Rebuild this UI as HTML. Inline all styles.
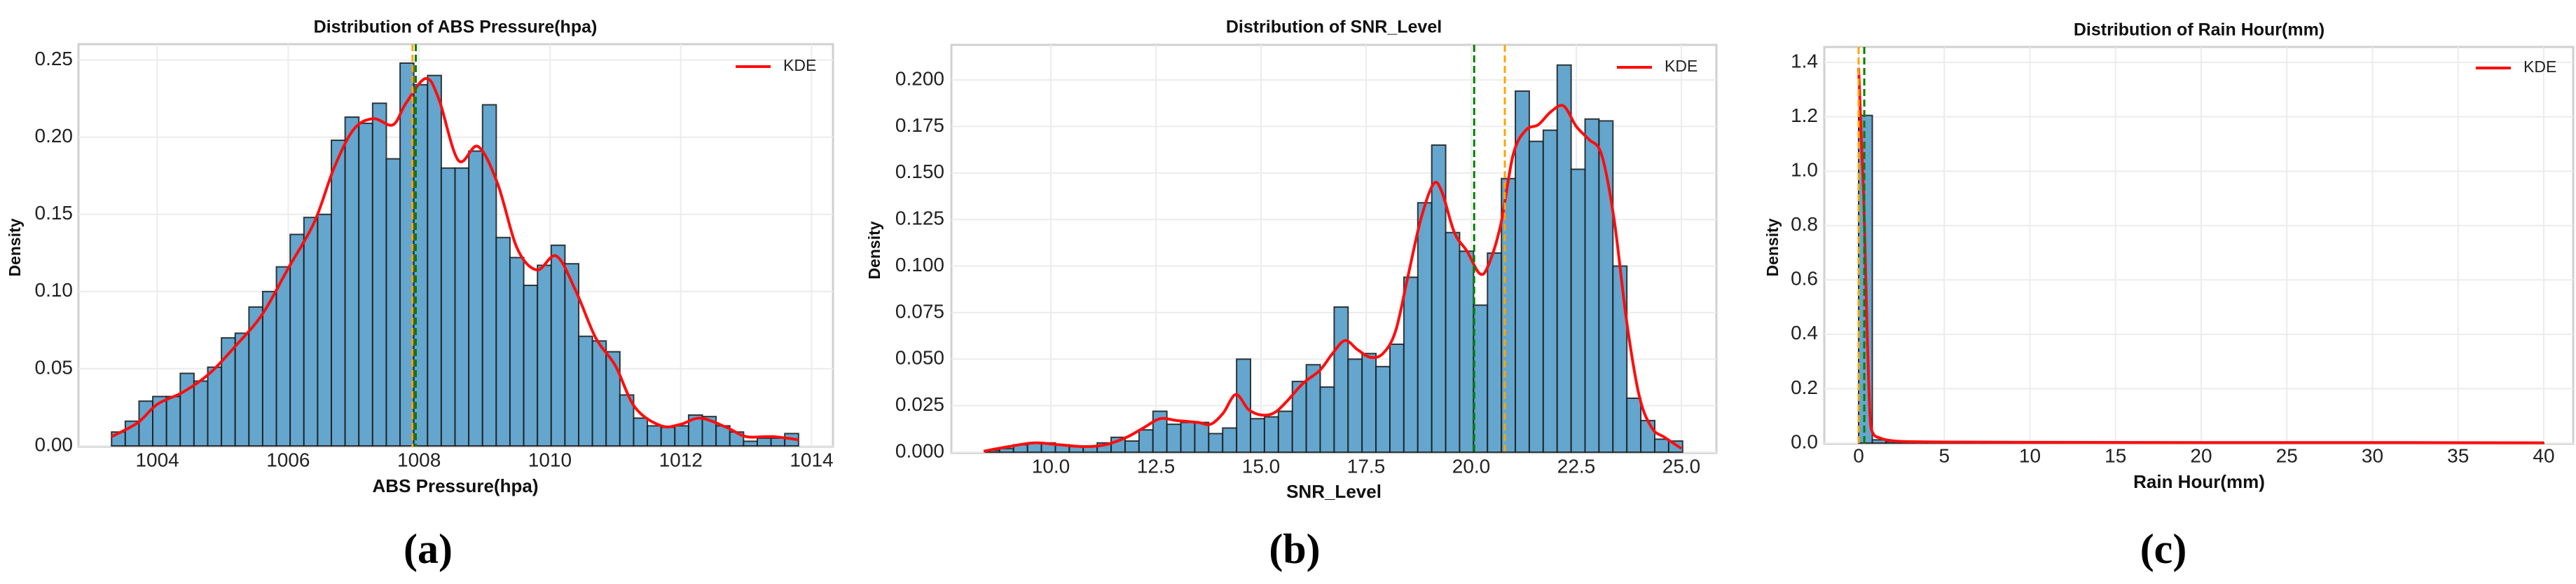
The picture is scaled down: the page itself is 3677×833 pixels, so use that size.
<!DOCTYPE html>
<html><head><meta charset="utf-8"><style>
html,body{margin:0;padding:0;background:#fff;}
svg{display:block;}
text{font-family:"Liberation Sans",Arial,sans-serif;}
</style></head><body>
<svg id="fig" width="3677" height="833" viewBox="0 0 3677 833" xmlns="http://www.w3.org/2000/svg"></svg>
<script>
// ---- Panel A data: ABS Pressure ----
const aBinStart = 1003.3;
const aBinWidth = 0.21;
const aValues = [0.009,0.016,0.029,0.032,0.032,0.047,0.042,0.051,0.070,0.073,0.090,0.100,0.116,0.137,0.148,0.150,0.198,0.213,0.209,0.222,0.186,0.248,0.234,0.240,0.180,0.180,0.191,0.221,0.135,0.122,0.104,0.117,0.130,0.118,0.071,0.068,0.061,0.033,0.018,0.013,0.012,0.013,0.020,0.019,0.013,0.009,0.003,0.005,0.005,0.008];
const aKdeX = [1003.3,1003.7,1004,1004.4,1004.8,1005.2,1005.6,1006,1006.4,1006.7,1007,1007.3,1007.6,1007.8,1008.1,1008.3,1008.6,1008.9,1009.2,1009.5,1009.8,1010.1,1010.4,1010.7,1011,1011.3,1011.7,1012,1012.3,1012.7,1013,1013.4,1013.8];
const aKdeY = [0.006,0.015,0.027,0.035,0.047,0.065,0.085,0.115,0.145,0.180,0.205,0.212,0.208,0.222,0.238,0.225,0.185,0.194,0.170,0.128,0.114,0.123,0.100,0.070,0.052,0.025,0.013,0.014,0.018,0.012,0.006,0.006,0.004];
const aXTicks = [1004,1006,1008,1010,1012,1014];
const aXTickLabels = ["1004","1006","1008","1010","1012","1014"];
const aYTicks = [0,0.05,0.10,0.15,0.20,0.25];
const aYTickLabels = ["0.00","0.05","0.10","0.15","0.20","0.25"];
const aMean = 1007.9;
const aMedian = 1007.95;

// ---- Panel B data: SNR_Level ----
const bBinStart = 8.45;
const bBinWidth = 0.3316;
const bValues = [0.001,0.002,0.004,0.005,0.005,0.004,0.003,0.003,0.005,0.008,0.006,0.012,0.022,0.015,0.016,0.016,0.010,0.013,0.050,0.018,0.019,0.022,0.038,0.047,0.035,0.078,0.050,0.053,0.046,0.058,0.094,0.134,0.165,0.118,0.108,0.079,0.107,0.147,0.194,0.167,0.173,0.208,0.152,0.179,0.178,0.100,0.029,0.017,0.007,0.006];
const bKdeX = [8.4,9,9.6,10.2,10.8,11.3,11.8,12.2,12.6,13.0,13.5,13.8,14.1,14.4,14.7,15.0,15.3,15.6,16.0,16.4,16.7,17.0,17.3,17.6,17.9,18.2,18.5,18.8,19.1,19.3,19.6,19.9,20.2,20.4,20.7,21.0,21.3,21.6,21.9,22.2,22.5,22.8,23.1,23.4,23.7,24.0,24.3,24.6,25.0];
const bKdeY = [0.0005,0.003,0.005,0.004,0.003,0.004,0.008,0.013,0.018,0.017,0.016,0.015,0.021,0.031,0.023,0.020,0.021,0.027,0.037,0.044,0.053,0.060,0.055,0.051,0.053,0.065,0.095,0.125,0.144,0.140,0.118,0.108,0.096,0.100,0.122,0.160,0.173,0.176,0.183,0.186,0.175,0.168,0.160,0.125,0.070,0.030,0.013,0.008,0.002];
const bXTicks = [10,12.5,15,17.5,20,22.5,25];
const bXTickLabels = ["10.0","12.5","15.0","17.5","20.0","22.5","25.0"];
const bYTicks = [0,0.025,0.05,0.075,0.1,0.125,0.15,0.175,0.2];
const bYTickLabels = ["0.000","0.025","0.050","0.075","0.100","0.125","0.150","0.175","0.200"];
const bMean = 20.8;
const bMedian = 20.07;

// ---- Panel C data: Rain Hour ----
const cBinStart = 0;
const cBinWidth = 0.8;
const cValues = [1.205,0.012,0.006,0.004,0.003,0.003,0.002,0.002,0.002,0.002,0.001,0.001,0.001,0.001,0.001,0.001,0.001,0.001,0.001,0.001,0.001,0.001,0.001,0.001,0.001,0.001,0.001,0.001,0.001,0.001,0.001,0.001,0.001,0.001,0.001,0.001,0.001,0.001,0.001,0.001,0.001,0.001,0.001,0.001,0.001,0.001,0.001,0.001,0.001,0.001];
const cKdeX = [0,0.1,0.2,0.3,0.4,0.5,0.6,0.7,0.9,1.2,1.6,2.5,5,10,20,30,40];
const cKdeY = [1.38,1.22,1.05,0.9,0.65,0.4,0.2,0.07,0.03,0.02,0.012,0.006,0.004,0.003,0.002,0.002,0.001];
const cXTicks = [0,5,10,15,20,25,30,35,40];
const cXTickLabels = ["0","5","10","15","20","25","30","35","40"];
const cYTicks = [0,0.2,0.4,0.6,0.8,1.0,1.2,1.4];
const cYTickLabels = ["0.0","0.2","0.4","0.6","0.8","1.0","1.2","1.4"];
const cMean = 0.0;
const cMedian = 0.33;

const NS = "http://www.w3.org/2000/svg";
const svg = document.getElementById('fig');
function mk(tag, attrs, parent, text){
  const e = document.createElementNS(NS, tag);
  for (const k in attrs) e.setAttribute(k, attrs[k]);
  if (text !== undefined) e.textContent = text;
  (parent||svg).appendChild(e);
  return e;
}

function panel(p){
  const g = mk('g', {});
  
  
  const sx = v => p.px0 + (v - p.x0) * (p.px1 - p.px0) / (p.x1 - p.x0);
  const sy = v => p.py0 + (v - p.y0) * (p.py1 - p.py0) / (p.y1 - p.y0);
  const fr = mk('rect', {x:p.L, y:p.T, width:p.R-p.L, height:p.B-p.T, fill:'#fff', stroke:'#d0d0d0', 'stroke-width':3}, g);
  
  
  p.xt.forEach((v,i)=>{
    const x = sx(v);
    const gl = mk('line', {x1:x, x2:x, y1:p.T, y2:p.B, stroke:'#ececec', 'stroke-width':2}, g);
    
    
    const t = mk('text', {x:x, y:p.xtY, 'font-size':28, fill:'#222', 'text-anchor':'middle', 'dominant-baseline':'middle'}, g, p.xl[i]);
    
    
  });
  p.yt.forEach((v,i)=>{
    const y = sy(v);
    const gl = mk('line', {x1:p.L, x2:p.R, y1:y, y2:y, stroke:'#ececec', 'stroke-width':2}, g);
    
    
    const t = mk('text', {x:p.ytX, y:y, 'font-size':28, fill:'#222', 'text-anchor':'end', 'dominant-baseline':'middle'}, g, p.yl[i]);
    
    
  });
  p.vals.forEach((v,i)=>{
    const x0 = sx(p.bs + i*p.bw), x1 = sx(p.bs + (i+1)*p.bw);
    const y = sy(v), y0 = sy(0);
    const r = mk('rect', {x:x0, y:y, width:Math.max(0.5,x1-x0), height:Math.max(0,y0-y), fill:'#64a6cd', stroke:'#1a1a1a', 'stroke-width':2, 'stroke-opacity':0.85}, g);
    
    
  });
  const pts = p.kx.map((v,i)=>[sx(v), sy(p.ky[i])]);
  let d = 'M' + pts[0][0] + ',' + pts[0][1];
  for (let i=0;i<pts.length-1;i++){
    const p0 = pts[Math.max(0,i-1)], p1 = pts[i], p2 = pts[i+1], p3 = pts[Math.min(pts.length-1,i+2)];
    const c1x = p1[0] + (p2[0]-p0[0])/6, c1y = p1[1] + (p2[1]-p0[1])/6;
    const c2x = p2[0] - (p3[0]-p1[0])/6, c2y = p2[1] - (p3[1]-p1[1])/6;
    d += ' C' + c1x + ',' + c1y + ' ' + c2x + ',' + c2y + ' ' + p2[0] + ',' + p2[1];
  }
  const kde = mk('path', {d:d, fill:'none', stroke:'#ff0d0d', 'stroke-width':4, 'stroke-linejoin':'round'}, g);
  
  
  const ml = mk('line', {x1:sx(p.mean), x2:sx(p.mean), y1:p.T, y2:p.B, stroke:'#ffa500', 'stroke-width':3, 'stroke-dasharray':'10,5'}, g);
  
  
  const md = mk('line', {x1:sx(p.median), x2:sx(p.median), y1:p.T, y2:p.B, stroke:'#008000', 'stroke-width':3, 'stroke-dasharray':'10,5'}, g);
  
  
  const lg = mk('g', {}, g);
  
  
  mk('line', {x1:p.legX, x2:p.legX+50, y1:p.legY, y2:p.legY, stroke:'#ff0d0d', 'stroke-width':4}, lg);
  mk('text', {x:p.legX+68, y:p.legY, 'font-size':23, fill:'#222', 'dominant-baseline':'middle'}, lg, 'KDE');
  const tt = mk('text', {x:p.cx, y:p.titleY, 'font-size':25, 'font-weight':'bold', fill:'#111', 'text-anchor':'middle', 'dominant-baseline':'middle'}, g, p.title);
  
  
  const xl = mk('text', {x:p.cx, y:p.xlabY, 'font-size':26, 'font-weight':'bold', fill:'#111', 'text-anchor':'middle', 'dominant-baseline':'middle'}, g, p.xlab);
  
  
  const yl = mk('text', {x:0, y:0, 'font-size':23, 'font-weight':'bold', fill:'#111', 'text-anchor':'middle', 'dominant-baseline':'middle', transform:'translate('+p.ylabX+','+p.ylabY+') rotate(-90)'}, g, 'Density');
  
  
  const cap = mk('text', {x:p.capX, y:789, 'font-size':60, 'font-weight':'bold', fill:'#000', 'text-anchor':'middle', 'dominant-baseline':'middle', style:'font-family:"Liberation Serif",serif'}, g, p.cap);
  
  
}

panel({id:'pressure', L:112, R:1189, T:63, B:637,
  x0:1004, x1:1014, px0:224.6, px1:1158.5, y0:0, y1:0.25, py0:636, py1:85.6,
  bs:aBinStart, bw:aBinWidth, vals:aValues, kx:aKdeX, ky:aKdeY,
  xt:aXTicks, xl:aXTickLabels, yt:aYTicks, yl:aYTickLabels, mean:aMean, median:aMedian,
  xtY:658, ytX:104, legX:1050, legY:95, cx:650, titleY:40,
  title:'Distribution of ABS Pressure(hpa)', xlab:'ABS Pressure(hpa)', xlabY:695, ylabX:23, ylabY:353, capX:611, cap:'(a)'});

panel({id:'snr', L:1358, R:2450, T:64, B:646,
  x0:10, x1:25, px0:1500, px1:2400, y0:0, y1:0.2, py0:645, py1:114,
  bs:bBinStart, bw:bBinWidth, vals:bValues, kx:bKdeX, ky:bKdeY,
  xt:bXTicks, xl:bXTickLabels, yt:bYTicks, yl:bYTickLabels, mean:bMean, median:bMedian,
  xtY:667, ytX:1348, legX:2308, legY:96, cx:1904, titleY:40,
  title:'Distribution of SNR_Level', xlab:'SNR_Level', xlabY:703, ylabX:1250, ylabY:357, capX:1848, cap:'(b)'});

panel({id:'rain', L:2604, R:3673, T:67, B:633,
  x0:0, x1:40, px0:2653, px1:3631, y0:0, y1:1.4, py0:632, py1:89,
  bs:cBinStart, bw:cBinWidth, vals:cValues, kx:cKdeX, ky:cKdeY,
  xt:cXTicks, xl:cXTickLabels, yt:cYTicks, yl:cYTickLabels, mean:cMean, median:cMedian,
  xtY:652, ytX:2595, legX:3534, legY:97, cx:3139, titleY:44,
  title:'Distribution of Rain Hour(mm)', xlab:'Rain Hour(mm)', xlabY:689, ylabX:2532, ylabY:353, capX:3088, cap:'(c)'});
</script>
</body></html>
